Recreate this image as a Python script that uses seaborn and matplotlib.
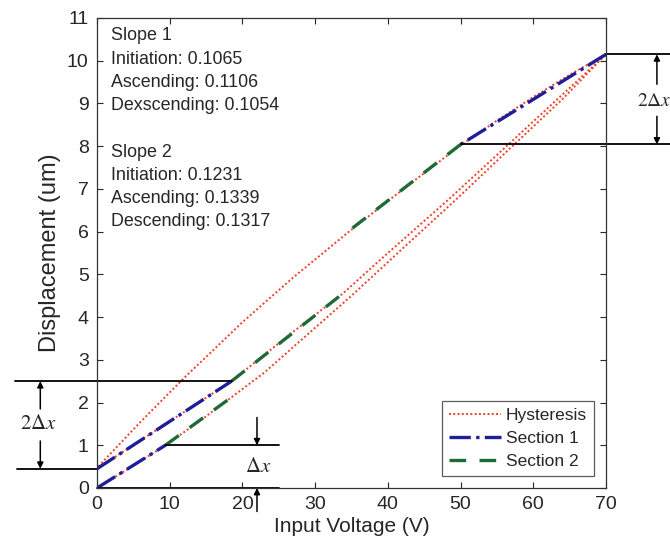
import numpy as np
import pandas as pd
import matplotlib
matplotlib.use("Agg")
import matplotlib.pyplot as plt
import seaborn as sns

# hysteresis branches (voltage V, displacement um)
init_v = [0, 4.5, 9.4, 14, 18.3, 23, 27, 35, 42, 50, 57, 64, 70]
init_d = [0, 0.47, 1.0, 1.55, 2.1, 2.7, 3.3, 4.5, 5.6, 6.85, 7.98, 9.1, 10.15]
asc_v = [0, 9, 18.5, 27, 33.8, 40, 48, 56, 63, 70]
asc_d = [0.45, 1.45, 2.5, 3.66, 4.55, 5.5, 6.7, 7.95, 9.05, 10.15]
desc_v = [70, 65, 60, 55, 50, 42, 34.8, 27, 20, 12, 6, 0]
desc_d = [10.15, 9.67, 9.15, 8.6, 8.02, 6.98, 6.02, 4.93, 3.88, 2.58, 1.55, 0.47]

# fitted sections
sec1_v = [[0, 9.4], [0, 18.5], [70, 50]]
sec1_d = [[0, 1.0], [0.45, 2.5], [10.15, 8.04]]
sec2_v = [[9.4, 18.3], [18.5, 33.8], [50, 34.8]]
sec2_d = [[1.0, 2.1], [2.5, 4.55], [8.04, 6.04]]

slope_text = ["Slope 1", "Initiation: 0.1065", "Ascending: 0.1106", "Dexscending: 0.1054", "",
              "Slope 2", "Initiation: 0.1231", "Ascending: 0.1339", "Descending: 0.1317"]

sns.set_style("ticks")
plt.rcParams['font.family'] = ['Liberation Sans', 'DejaVu Sans']
plt.rcParams['mathtext.fontset'] = 'stix'

fig = plt.figure(figsize=(6.7, 5.45), dpi=100)
ax = fig.add_axes([0.1448, 0.1046, 0.7597, 0.8624])

red = '#f0402c'
blue = '#1e1e9a'
green = '#1f6b38'

for i, (v, d) in enumerate([(init_v, init_d), (asc_v, asc_d), (desc_v, desc_d)]):
    df = pd.DataFrame({'v': v, 'd': d})
    sns.lineplot(data=df, x='v', y='d', ax=ax, sort=False, estimator=None, color=red,
                 linestyle=(0, (1, 1.2)), linewidth=1.4, label='Hysteresis' if i == 0 else None, legend=False)

for i in range(3):
    df = pd.DataFrame({'v': sec1_v[i], 'd': sec1_d[i]})
    sns.lineplot(data=df, x='v', y='d', ax=ax, sort=False, estimator=None, color=blue,
                 linestyle='-.', linewidth=2.4, label='Section 1' if i == 0 else None, legend=False)
for i in range(3):
    df = pd.DataFrame({'v': sec2_v[i], 'd': sec2_d[i]})
    sns.lineplot(data=df, x='v', y='d', ax=ax, sort=False, estimator=None, color=green,
                 linestyle=(0, (5, 4)), linewidth=2.4, label='Section 2' if i == 0 else None, legend=False)

ax.set_xlim(0, 70)
ax.set_ylim(0, 11)
ax.set_xticks(range(0, 71, 10))
ax.set_yticks(range(0, 12))
ax.tick_params(direction='in', top=True, right=True, labelsize=14, length=4, width=0.8, pad=6)
for s in ax.spines.values():
    s.set_linewidth(0.9)
    s.set_color('#333333')
ax.set_xlabel('Input Voltage (V)', fontsize=15, labelpad=3)
ax.set_ylabel('Displacement (um)', fontsize=17, labelpad=4)

ax.text(1.9, 10.78, "\n".join(slope_text), fontsize=12.9, va='top', ha='left', linespacing=1.48)

leg = ax.legend(loc='lower right', fontsize=12.5, frameon=True, fancybox=False,
                edgecolor='#333333', handlelength=3.0, borderaxespad=0.7, labelspacing=0.45,
                handletextpad=0.3, borderpad=0.4)
leg.get_frame().set_linewidth(0.9)

# delta x markers outside / inside the axes
lk = dict(color='k', linewidth=1.3, clip_on=False)
ax.plot([-11.3, 18.5], [2.5, 2.5], **lk)
ax.plot([-11.0, 0], [0.45, 0.45], **lk)
ax.plot([70, 79], [10.15, 10.15], **lk)
ax.plot([50, 79], [8.04, 8.04], **lk)
ax.plot([0, 25], [0, 0], **lk)
ax.plot([9.4, 25], [1.0, 1.0], **lk)

ap = dict(arrowstyle='-|>', color='k', lw=1.1, mutation_scale=9, shrinkA=0, shrinkB=0)
ax.annotate('', xy=(-7.8, 2.5), xytext=(-7.8, 1.85), arrowprops=ap, annotation_clip=False)
ax.annotate('', xy=(-7.8, 0.45), xytext=(-7.8, 1.1), arrowprops=ap, annotation_clip=False)
ax.annotate('', xy=(77.0, 10.15), xytext=(77.0, 9.45), arrowprops=ap, annotation_clip=False)
ax.annotate('', xy=(77.0, 8.04), xytext=(77.0, 8.7), arrowprops=ap, annotation_clip=False)
ax.annotate('', xy=(22.0, 1.0), xytext=(22.0, 1.65), arrowprops=ap, annotation_clip=False)
ax.annotate('', xy=(22.0, 0), xytext=(22.0, -0.55), arrowprops=ap, annotation_clip=False)

ax.text(-8.1, 1.5, r'$2\Delta x$', fontsize=15, ha='center', va='center', clip_on=False)
ax.text(74.2, 9.05, r'$2\Delta x$', fontsize=14, ha='left', va='center', clip_on=False)
ax.text(22.1, 0.5, r'$\Delta x$', fontsize=15, ha='center', va='center')

fig.savefig('out.png', dpi=100)
